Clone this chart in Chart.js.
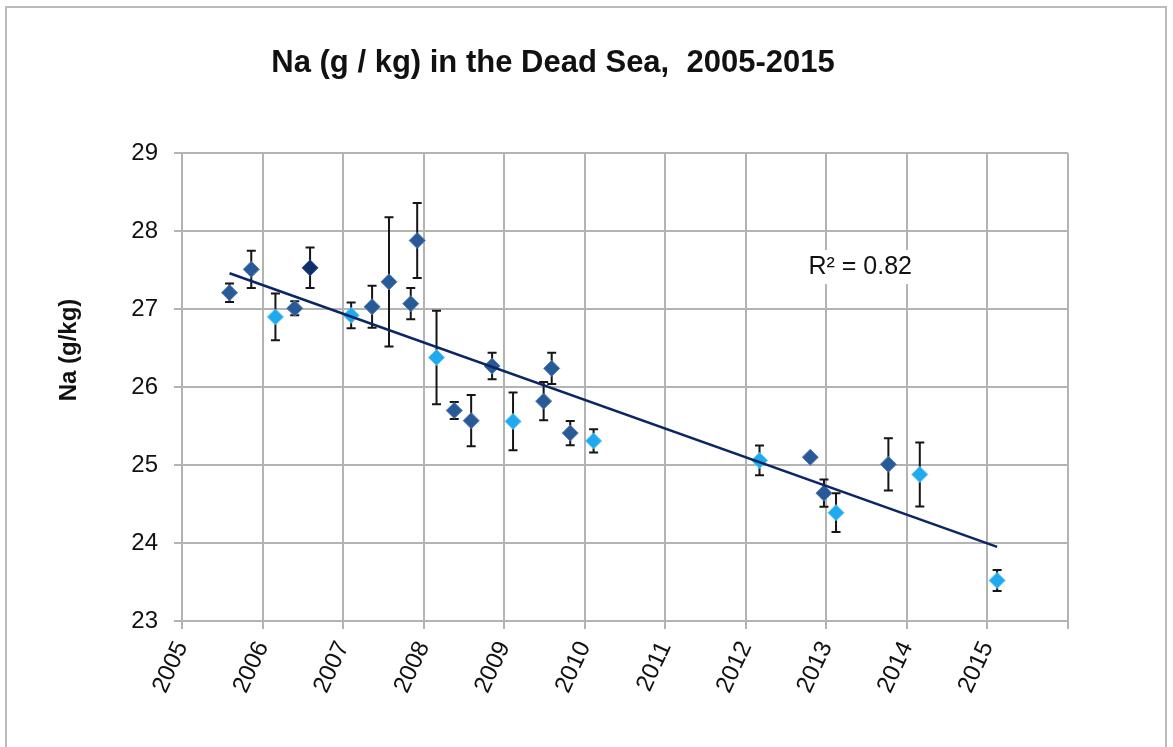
<!DOCTYPE html>
<html>
<head>
<meta charset="utf-8">
<script src="https://cdn.jsdelivr.net/npm/chart.js@4.4.1/dist/chart.umd.min.js"></script>
<style>
  html, body { margin: 0; padding: 0; background: #ffffff; }
  #wrap { position: relative; width: 1173px; height: 747px; overflow: hidden; }
  #frame { position: absolute; left: 5px; top: 6px; width: 1162px; height: 760px; border: 2px solid #bcbcbc; pointer-events: none; box-sizing: border-box; }
  canvas { position: absolute; left: 0; top: 0; }
</style>
</head>
<body>
<div id="wrap">
  <canvas id="c" width="1173" height="747"></canvas>
  <div id="frame"></div>
</div>
<script>
// ---- Data ----
const titleText = "Na (g / kg) in the Dead Sea,  2005-2015";
const yTitle = "Na (g/kg)";
const r2Label = "R\u00B2 = 0.82";
const yearTicks = [2005, 2006, 2007, 2008, 2009, 2010, 2011, 2012, 2013, 2014, 2015];

// medium-blue series
const medX   = [2005.59, 2005.86, 2006.40, 2007.36, 2007.57, 2007.84, 2007.92, 2008.38, 2008.59, 2008.85, 2009.49, 2009.59, 2009.82, 2012.80, 2012.97, 2013.77];
const medY   = [27.21,   27.51,   27.01,   27.03,   27.35,   27.07,   27.88,   25.70,   25.57,   26.27,   25.82,   26.24,   25.41,   25.10,   24.64,   25.01];
const medErr = [0.12,    0.24,    0.09,    0.27,    0.83,    0.20,    0.48,    0.11,    0.33,    0.17,    0.245,   0.20,    0.155,   0.03,    0.175,   0.335];

// dark-navy series
const darkX   = [2006.59];
const darkY   = [27.53];
const darkErr = [0.26];

// light-blue series
const lightX   = [2006.16, 2007.10, 2008.16, 2009.11, 2010.11, 2012.17, 2013.12, 2014.16, 2015.12];
const lightY   = [26.90,   26.92,   26.38,   25.56,   25.31,   25.06,   24.39,   24.88,   23.52];
const lightErr = [0.30,    0.165,   0.60,    0.37,    0.15,    0.19,    0.25,    0.41,    0.135];

// linear trend line (end points)
const trendX = [2005.59, 2015.12];
const trendY = [27.46, 23.95];

// ---- helpers ----
function pts(xs, ys) { return xs.map((x, i) => ({ x: x, y: ys[i] })); }

const errorBars = {
  id: 'errorBars',
  beforeDatasetsDraw(chart) {
    const ctx = chart.ctx;
    const xs = chart.scales.x, ys = chart.scales.y;
    ctx.save();
    ctx.strokeStyle = '#151515';
    ctx.lineWidth = 2;
    chart.data.datasets.forEach(ds => {
      if (!ds.errs) return;
      ds.data.forEach((p, i) => {
        const e = ds.errs[i];
        const px = xs.getPixelForValue(p.x);
        const yt = ys.getPixelForValue(p.y + e);
        const yb = ys.getPixelForValue(p.y - e);
        ctx.beginPath();
        ctx.moveTo(px, yt); ctx.lineTo(px, yb);
        ctx.moveTo(px - 4.5, yt); ctx.lineTo(px + 4.5, yt);
        ctx.moveTo(px - 4.5, yb); ctx.lineTo(px + 4.5, yb);
        ctx.stroke();
      });
    });
    ctx.restore();
  }
};

const annotations = {
  id: 'annotations',
  afterLayout(chart) {
    // centre the title over the same span as the reference
    if (chart.titleBlock) { chart.titleBlock.right = 1106; chart.titleBlock.width = 1106 - chart.titleBlock.left; }
  },
  beforeDatasetsDraw(chart) {
    const ctx = chart.ctx;
    const xs = chart.scales.x, ys = chart.scales.y;
    const cx = xs.getPixelForValue(2013.42);
    const cy = ys.getPixelForValue(27.54);
    ctx.save();
    ctx.font = '25px "Liberation Sans", Arial, sans-serif';
    const w = ctx.measureText(r2Label).width;
    ctx.fillStyle = '#ffffff';
    ctx.fillRect(cx - w / 2 - 6, cy - 17, w + 12, 34);
    ctx.fillStyle = '#111111';
    ctx.textAlign = 'center';
    ctx.textBaseline = 'middle';
    ctx.fillText(r2Label, cx, cy);
    ctx.restore();
  },
  afterDraw(chart) {
    const ctx = chart.ctx;
    const a = chart.chartArea;
    ctx.save();
    ctx.translate(a.left - 113, 350);
    ctx.rotate(-Math.PI / 2);
    ctx.font = 'bold 24px "Liberation Sans", Arial, sans-serif';
    ctx.fillStyle = '#111111';
    ctx.textAlign = 'center';
    ctx.textBaseline = 'middle';
    ctx.fillText(yTitle, 0, 0);
    ctx.restore();
  }
};

const gridColor = '#b3b3b3';
const tickFont = { family: '"Liberation Sans", Arial, sans-serif', size: 24 };

new Chart(document.getElementById('c'), {
  type: 'scatter',
  data: {
    datasets: [
      {
        label: 'trend', type: 'line', data: pts(trendX, trendY),
        borderColor: '#0c2565', borderWidth: 2.5, pointRadius: 0, fill: false, order: 0
      },
      {
        label: 'medium', data: pts(medX, medY), errs: medErr,
        pointStyle: 'rectRot', pointRadius: 8, pointHoverRadius: 8,
        backgroundColor: '#2a5a96', borderColor: '#4b7bb5', borderWidth: 1, order: 1
      },
      {
        label: 'dark', data: pts(darkX, darkY), errs: darkErr,
        pointStyle: 'rectRot', pointRadius: 8, pointHoverRadius: 8,
        backgroundColor: '#0f2f68', borderColor: '#2d4f88', borderWidth: 1, order: 1
      },
      {
        label: 'light', data: pts(lightX, lightY), errs: lightErr,
        pointStyle: 'rectRot', pointRadius: 8, pointHoverRadius: 8,
        backgroundColor: '#1fa9ee', borderColor: '#5cc3f3', borderWidth: 1, order: 1
      }
    ]
  },
  options: {
    responsive: false,
    animation: false,
    events: [],
    layout: { padding: { left: 0, right: 105, top: 0, bottom: 0 } },
    plugins: {
      legend: { display: false },
      tooltip: { enabled: false },
      title: {
        display: true, text: titleText, color: '#111111',
        font: { family: '"Liberation Sans", Arial, sans-serif', size: 31, weight: 'bold', lineHeight: 1.2 },
        padding: { top: 45, bottom: 71 }
      }
    },
    scales: {
      x: {
        type: 'linear', min: 2005, max: 2016,
        afterBuildTicks(scale) { scale.ticks = yearTicks.concat([2016]).map(v => ({ value: v })); },
        afterFit(scale) { scale.height = 126; },
        ticks: {
          color: '#111111', font: tickFont, padding: 8,
          minRotation: 65, maxRotation: 65, autoSkip: false,
          callback: v => (yearTicks.includes(v) ? String(v) : '')
        },
        grid: { color: gridColor, lineWidth: 2, tickLength: 8 },
        border: { color: gridColor, width: 2 }
      },
      y: {
        min: 23, max: 29,
        afterFit(scale) { scale.width = 182; },
        ticks: { stepSize: 1, color: '#111111', font: tickFont, padding: 16 },
        grid: { color: gridColor, lineWidth: 2, tickLength: 8 },
        border: { color: gridColor, width: 2 }
      }
    }
  },
  plugins: [errorBars, annotations]
});
</script>
</body>
</html>
